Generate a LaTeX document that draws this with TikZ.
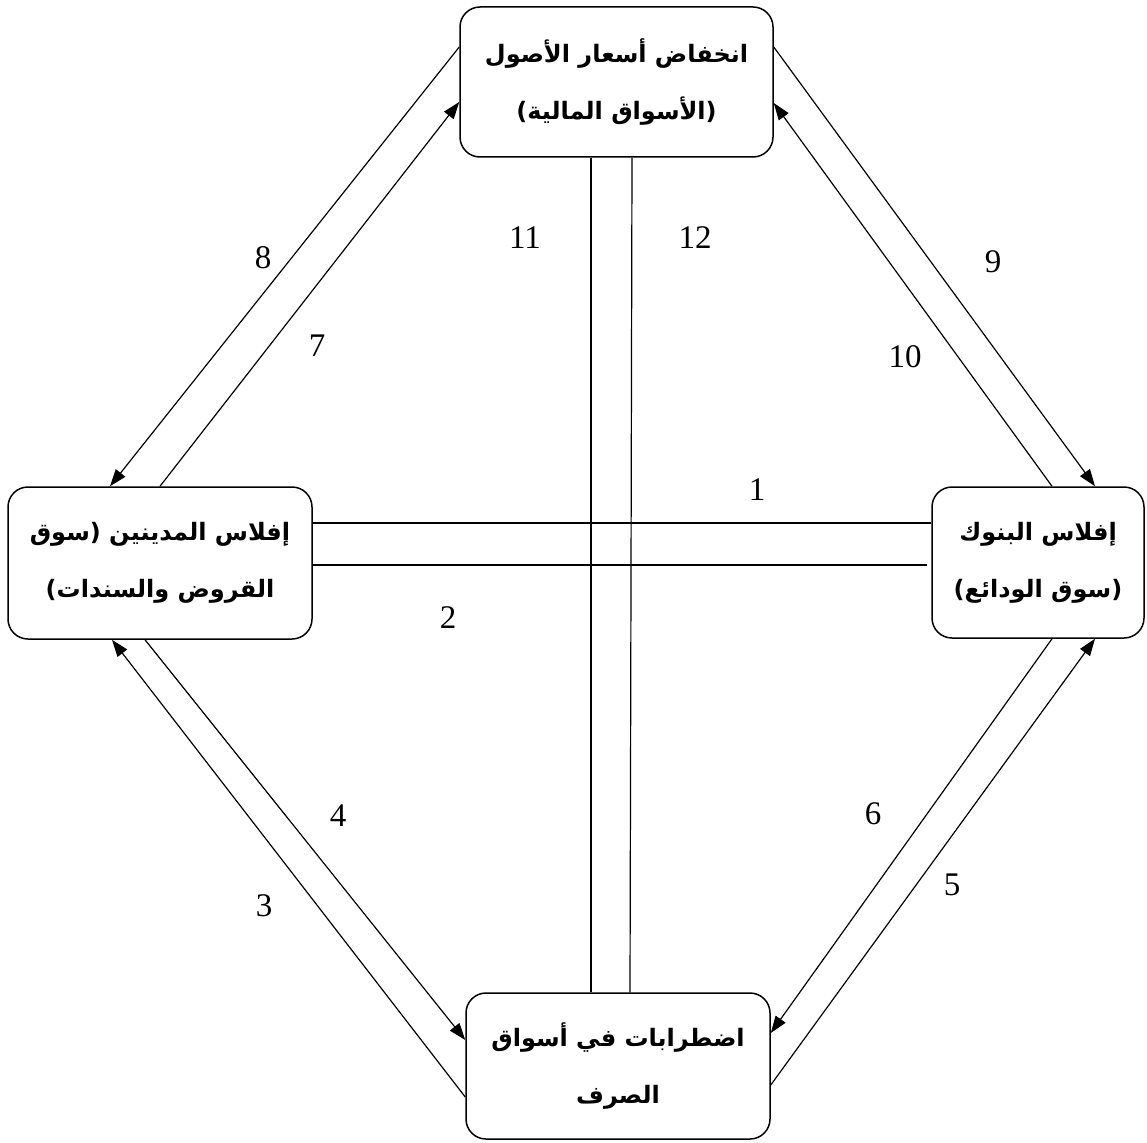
\documentclass[tikz,border=0pt]{standalone}
\usepackage{fontspec}
\usetikzlibrary{arrows.meta}
\newfontfamily\arabicfont[Script=Arabic]{DejaVu Sans}
\newfontfamily\numfont{Liberation Serif}
\TeXXeTstate=1
\tikzset{
  box/.style={draw, line width=1.5pt, rounded corners=20pt, align=center, inner sep=0pt,
    font=\arabicfont\bfseries\fontsize{24}{57}\selectfont},
  link/.style={line width=1.2pt},
  arr/.style={line width=1.2pt, -{Triangle[length=17pt,width=12pt]}},
  num/.style={font=\numfont\fontsize{33}{36}\selectfont, inner sep=0pt}
}
\begin{document}
\begin{tikzpicture}[x=1pt,y=-1pt]
\useasboundingbox (0,0) rectangle (1147,1142);
\fill[white] (0,0) rectangle (1147,1142);
% boxes
\node[box, minimum width=313pt, minimum height=150pt] (top) at (616.5,82)
  {\beginR انخفاض أسعار الأصول\endR\\\beginR (الأسواق المالية)\endR};
\node[box, minimum width=304pt, minimum height=152pt] (left) at (160,563)
  {\beginR إفلاس المدينين (سوق\endR\\\beginR القروض والسندات)\endR};
\node[box, minimum width=212pt, minimum height=151pt] (right) at (1038,562.5)
  {\beginR إفلاس البنوك\endR\\\beginR (سوق الودائع)\endR};
\node[box, minimum width=304pt, minimum height=146pt] (bottom) at (618,1066)
  {\beginR اضطرابات في أسواق\endR\\\beginR الصرف\endR};
% connectors
\draw[arr] ([yshift=35pt]top.west) -- ([xshift=-50pt]left.north);
\draw[arr] (left.north) -- ([yshift=-20pt]top.west);
\draw[arr] ([yshift=35pt]top.east) -- ([xshift=57pt]right.north);
\draw[arr] ([xshift=14pt]right.north) -- ([yshift=-21pt]top.east);
\draw[link] ([yshift=40pt]left.east) -- ([yshift=40pt]left.east -| right.west);
\draw[link] ([yshift=-2pt]left.east) -- ([yshift=-2pt,xshift=-4pt]left.east -| right.west);
\draw[link] ([xshift=-25.5pt]top.south) -- ([xshift=-25.5pt]top.south |- bottom.north);
\draw[link] ([xshift=15.5pt]top.south) -- ([xshift=12pt]bottom.north);
\draw[arr] ([yshift=-31pt]bottom.west) -- ([xshift=-48pt]left.south);
\draw[arr] ([xshift=-15pt]left.south) -- ([yshift=26pt]bottom.west);
\draw[arr] ([yshift=-19pt]bottom.east) -- ([xshift=57pt]right.south);
\draw[arr] ([xshift=14pt]right.south) -- ([yshift=33pt]bottom.east);
% labels
\node[num] (n1) at (757,490) {1};
\node[num] (n2) at (448,618) {2};
\node[num] (n3) at (264,906) {3};
\node[num] (n4) at (338,816) {4};
\node[num] (n5) at (952,885) {5};
\node[num] (n6) at (873,814) {6};
\node[num] (n7) at (317,346) {7};
\node[num] (n8) at (263,258) {8};
\node[num] (n9) at (993,262) {9};
\node[num] (n10) at (905,357) {10};
\node[num] (n11) at (525,238) {11};
\node[num] (n12) at (695,238) {12};
\end{tikzpicture}
\end{document}
